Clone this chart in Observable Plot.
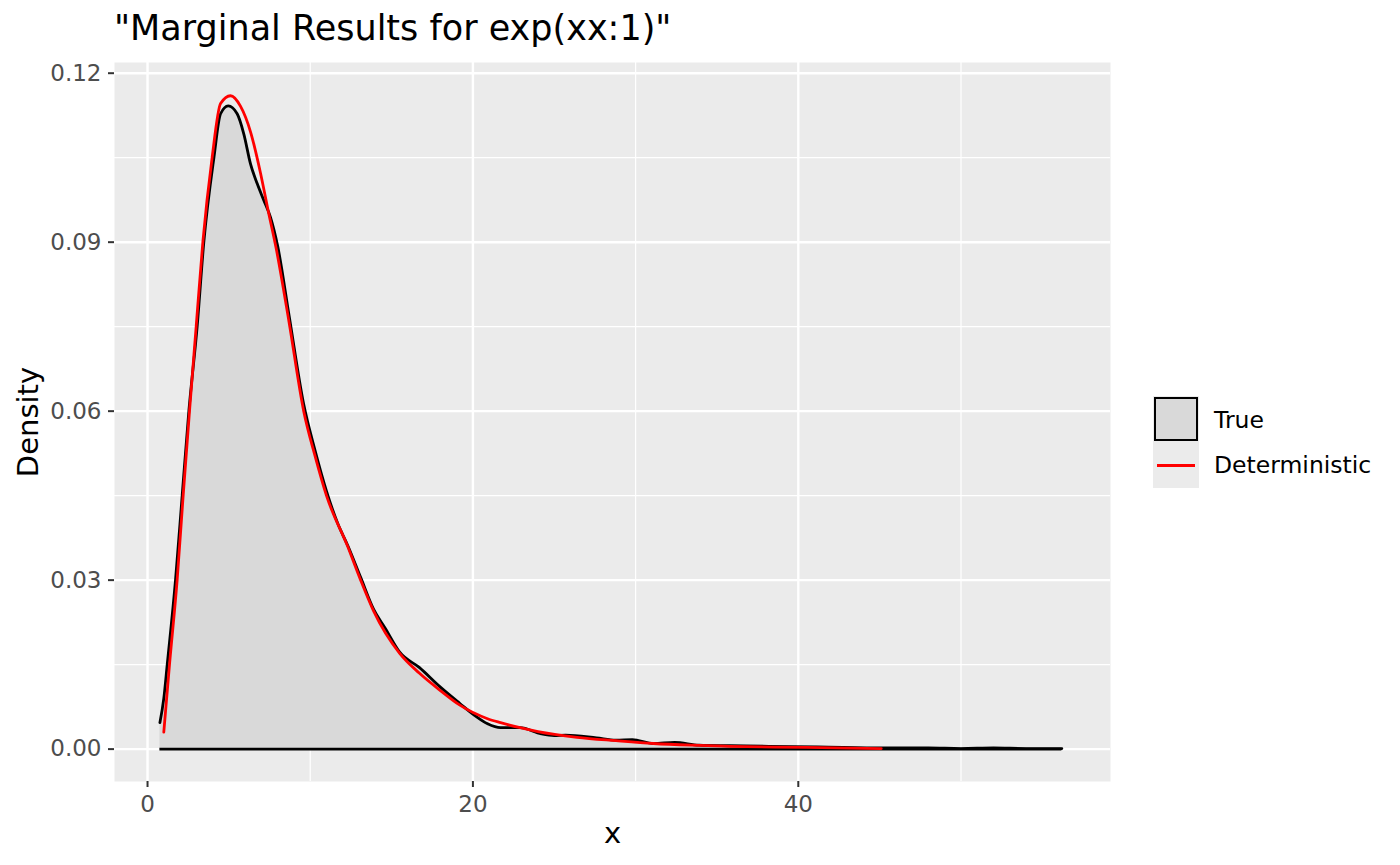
<!DOCTYPE html>
<html>
<head>
<meta charset="utf-8">
<script src="https://cdn.jsdelivr.net/npm/d3@7"></script>
<script src="https://cdn.jsdelivr.net/npm/@observablehq/plot@0.6"></script>
<style>
  body { margin: 0; background: #ffffff; font-family: "DejaVu Sans", sans-serif; }
  #wrap { position: relative; width: 1400px; height: 865px; overflow: hidden; }
  #title { position: absolute; left: 114px; top: 11px; font-size: 35px; line-height: 35px; color: #000; white-space: nowrap; }
  #chart { position: absolute; left: 0; top: 0; }
  .key { position: absolute; left: 1153px; width: 46px; height: 46px; background: #ebebeb; }
  .lab { position: absolute; left: 1214px; font-size: 23.5px; line-height: 23.5px; color: #000; white-space: nowrap; }
</style>
</head>
<body>
<div id="wrap">
  <div id="chart"></div>
  <div id="title"></div>
  <div class="key" style="top:396px;"><div style="position:absolute;left:1px;top:1px;width:40px;height:40px;background:#d9d9d9;border:2px solid #000;"></div></div>
  <div class="key" style="top:442px;"><div style="position:absolute;left:4px;top:22px;width:38px;height:3px;background:#ff0000;"></div></div>
  <div class="lab" id="lab0" style="top:409px;"></div>
  <div class="lab" id="lab1" style="top:454px;"></div>
</div>
<script>
const titleText = "\"Marginal Results for exp(xx:1)\"";
const seriesNames = ["True", "Deterministic"];
const xLabel = "x";
const yLabel = "Density";

const trueX = [0.76, 1.0, 1.21, 1.72, 2.13, 2.54, 3.05, 3.46, 4.08, 4.49, 4.96, 5.51, 5.92, 6.33, 6.74, 7.15, 7.56, 8.0, 8.7, 9.6, 10.3, 11.0, 11.7, 12.3, 13.1, 13.9, 14.6, 15.5, 16.7, 18.0, 19.2, 20.1, 20.9, 21.7, 22.9, 24.2, 25.0, 25.7, 27.6, 28.8, 29.8, 31.1, 32.4, 33.9, 35.8, 38.2, 41.2, 45.2, 48.0, 50.0, 52.0, 54.0, 56.2];
const trueY = [0.0047, 0.009, 0.015, 0.030, 0.045, 0.060, 0.075, 0.090, 0.105, 0.1128, 0.1142, 0.1128, 0.1092, 0.1039, 0.1004, 0.0974, 0.0944, 0.0893, 0.077, 0.0612, 0.053, 0.0458, 0.040, 0.0362, 0.0305, 0.0248, 0.0215, 0.0172, 0.0145, 0.011, 0.0081, 0.0060, 0.0045, 0.0038, 0.0038, 0.0027, 0.0024, 0.0025, 0.0020, 0.0016, 0.0017, 0.0010, 0.0012, 0.0007, 0.0006, 0.0005, 0.0004, 0.0002, 0.0002, 0.0001, 0.0002, 0.0001, 0.0001];

const detX = [1.0, 1.35, 1.82, 2.19, 2.58, 2.99, 3.40, 3.97, 4.49, 5.1, 5.72, 6.33, 6.95, 7.4, 7.9, 8.7, 9.6, 10.3, 11.0, 12.3, 13.1, 13.9, 15.5, 16.7, 18.0, 19.2, 20.9, 21.7, 22.9, 24.0, 26.4, 28.8, 31.1, 33.4, 35.8, 40.5, 45.1];
const detY = [0.003, 0.015, 0.030, 0.045, 0.060, 0.075, 0.090, 0.105, 0.1146, 0.1160, 0.1141, 0.1096, 0.1022, 0.0958, 0.0890, 0.0758, 0.0600, 0.052, 0.045, 0.036, 0.030, 0.0245, 0.017, 0.0135, 0.0104, 0.0078, 0.0054, 0.0047, 0.0038, 0.0031, 0.0021, 0.0015, 0.0010, 0.0007, 0.0005, 0.0003, 0.0001];

const xTicks = [0, 20, 40];
const xMinor = [10, 30, 50];
const yTicks = [0, 0.03, 0.06, 0.09, 0.12];
const yMinor = [0.015, 0.045, 0.075, 0.105];

const trueData = trueX.map((x, i) => ({x, y: trueY[i]}));
const detData = detX.map((x, i) => ({x, y: detY[i]}));
const baseLine = [{y: 0, x1: trueX[0], x2: trueX[trueX.length - 1]}];

document.getElementById("title").textContent = titleText;
document.getElementById("lab0").textContent = seriesNames[0];
document.getElementById("lab1").textContent = seriesNames[1];

const chart = Plot.plot({
  width: 1400,
  height: 865,
  marginLeft: 114,
  marginRight: 290,
  marginTop: 62,
  marginBottom: 84,
  x: {domain: [-2.03, 59.19]},
  y: {domain: [-0.00575, 0.1219]},
  style: {fontFamily: "DejaVu Sans, sans-serif", background: "transparent", overflow: "visible"},
  marks: [
    Plot.frame({fill: "#ebebeb", stroke: null}),
    Plot.ruleX(xMinor, {stroke: "#ffffff", strokeWidth: 1.2}),
    Plot.ruleY(yMinor, {stroke: "#ffffff", strokeWidth: 1.2}),
    Plot.ruleX(xTicks, {stroke: "#ffffff", strokeWidth: 2.4}),
    Plot.ruleY(yTicks, {stroke: "#ffffff", strokeWidth: 2.4}),
    Plot.areaY(trueData, {x: "x", y: "y", fill: "#d9d9d9", curve: "monotone-x"}),
    Plot.ruleY(baseLine, {y: "y", x1: "x1", x2: "x2", stroke: "#000000", strokeWidth: 2.8}),
    Plot.line(trueData, {x: "x", y: "y", stroke: "#000000", strokeWidth: 2.8, curve: "monotone-x"}),
    Plot.line(detData, {x: "x", y: "y", stroke: "#ff0000", strokeWidth: 2.8, curve: "monotone-x"}),
    Plot.axisX({ticks: xTicks, tickSize: 6, tickPadding: 8, fontSize: 23, fill: "#4d4d4d", stroke: "#333333", strokeWidth: 2, label: null}),
    Plot.axisY({ticks: yTicks, tickFormat: d3.format(".2f"), tickSize: 6, tickPadding: 7, fontSize: 23, fill: "#4d4d4d", stroke: "#333333", strokeWidth: 2, label: null}),
    Plot.text([xLabel], {frameAnchor: "bottom", dy: 61, fontSize: 29, fill: "#000000"}),
    Plot.text([yLabel], {frameAnchor: "left", dx: -86, rotate: -90, textAnchor: "middle", fontSize: 29, fill: "#000000"})
  ]
});
document.getElementById("chart").appendChild(chart);
</script>
</body>
</html>
